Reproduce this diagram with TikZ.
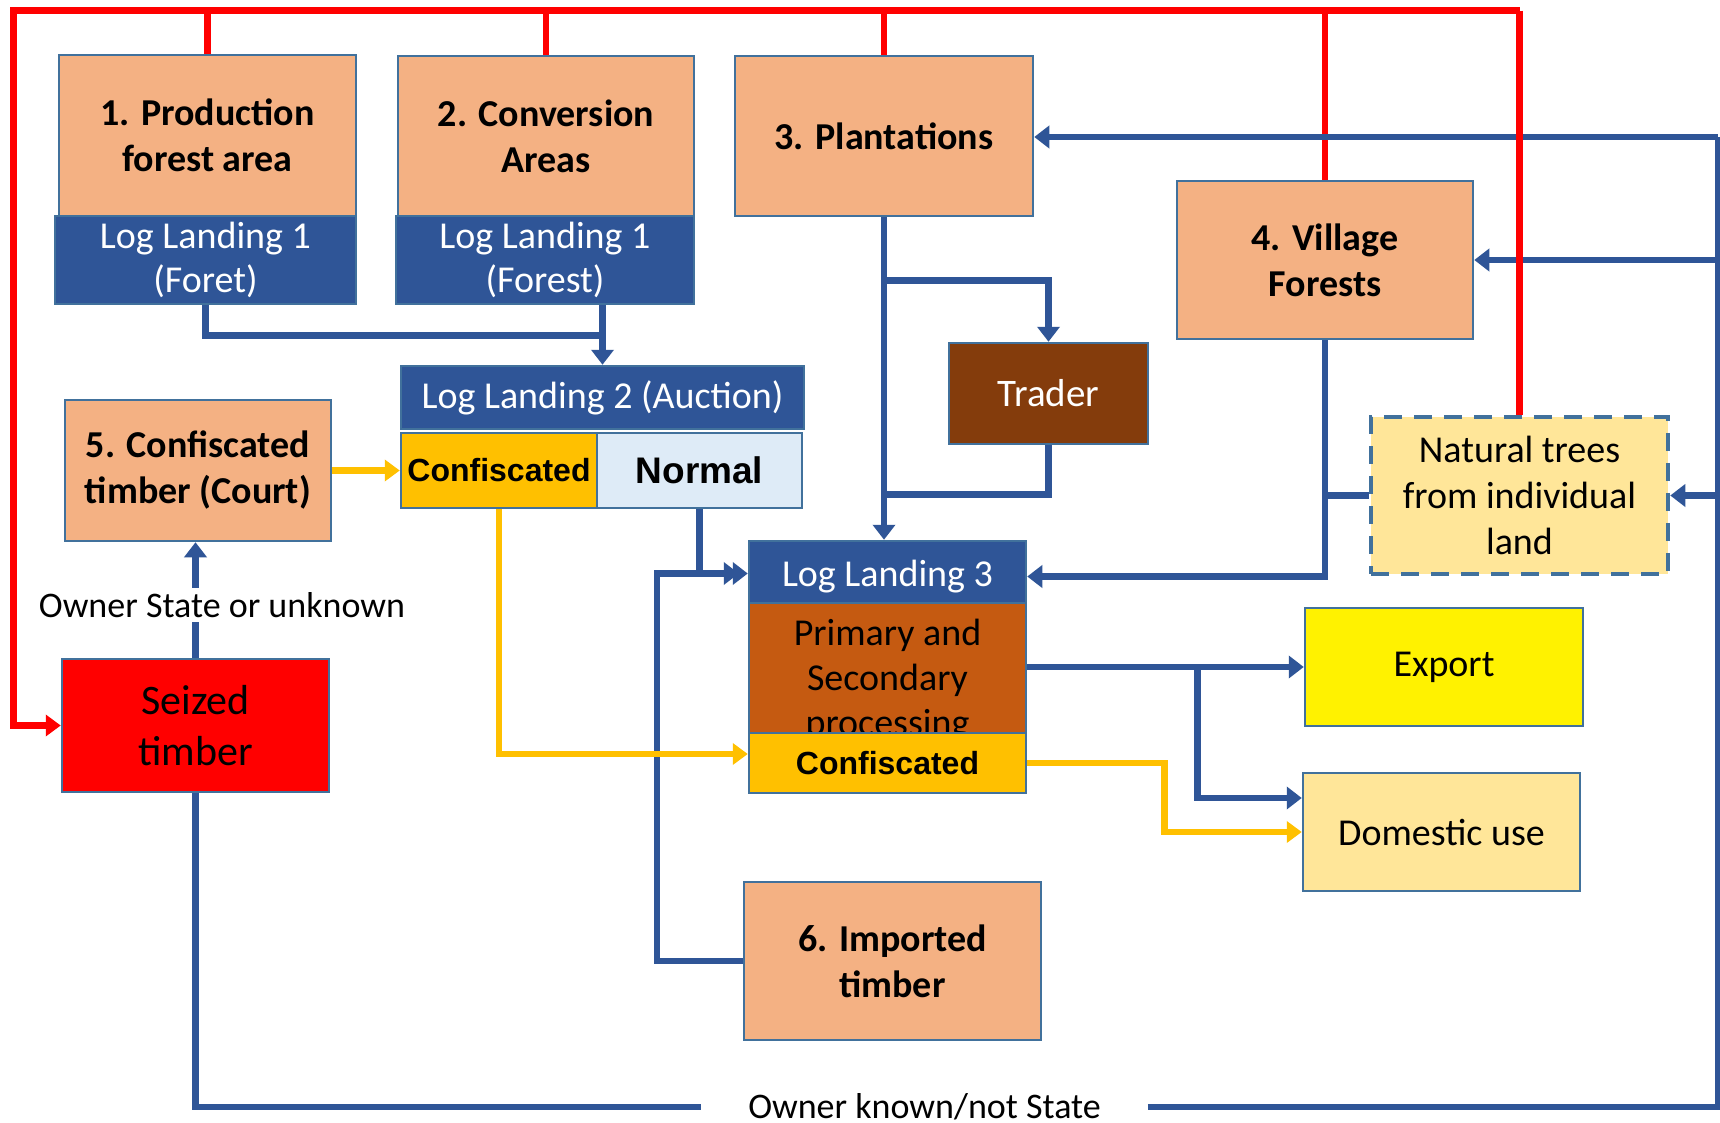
\documentclass[tikz,border=0pt]{standalone}
\usepackage{fontspec}
\setmainfont{Carlito}
\newfontfamily\arialfont{Liberation Sans}
\usetikzlibrary{arrows.meta,calc}

\definecolor{salmon}{HTML}{F4B183}
\definecolor{edgeblue}{HTML}{41719C}
\definecolor{landblue}{HTML}{2F5597}
\definecolor{flowblue}{HTML}{2F5597}
\definecolor{confyellow}{HTML}{FFC000}
\definecolor{paleblue}{HTML}{DEEBF7}
\definecolor{traderbrown}{HTML}{843C0C}
\definecolor{procbrown}{HTML}{C55A11}
\definecolor{paleyellow}{HTML}{FFE699}

\tikzset{
  wh/.style 2 args={minimum width=#1pt, minimum height=#2pt},
  box/.style={draw=edgeblue, line width=2.5pt, inner sep=0pt, align=center, text=black},
  source/.style={box, fill=salmon, font=\bfseries\fontsize{38}{46}\selectfont},
  landing/.style={box, fill=landblue, text=white, font=\fontsize{38}{44}\selectfont},
  confbox/.style={box, fill=confyellow, font=\arialfont\bfseries\fontsize{32}{36}\selectfont},
  outlet/.style={box, font=\fontsize{38}{44}\selectfont},
  note/.style={inner sep=0pt, font=\fontsize{36}{40}\selectfont},
  flow/.style={draw=flowblue, line width=6.5pt},
  flowarrow/.style={flow, -{Triangle[width=22pt,length=15pt]}},
  seize/.style={draw=red, line width=6.5pt},
  seizearrow/.style={seize, -{Triangle[width=21pt,length=15pt]}},
  confarrow/.style={draw=confyellow, line width=6.5pt, -{Triangle[width=21pt,length=15pt]}},
}

\begin{document}
\begin{tikzpicture}[x=1pt, y=-1pt, line join=miter]
  \useasboundingbox[fill=white] (0,0) rectangle (1720,1123);

  % timber sources
  \node[source, wh={297}{161}] (prod) at (207.5,135.5) {1. Production\\forest area};
  \node[landing, wh={301}{88}] (ll1a) at (205.5,260) {Log Landing 1\\(Foret)};
  \node[source, wh={296}{160}] (conv) at (546,136) {2. Conversion\\Areas};
  \node[landing, wh={298}{88}] (ll1b) at (545,260) {Log Landing 1\\(Forest)};
  \node[source, wh={298}{160}] (plant) at (884,136) {3. Plantations};
  \node[source, wh={296}{158}] (village) at (1325,260) {4. Village\\Forests};
  \node[source, wh={266}{141}] (court) at (198,470.5) {5. Confiscated\\timber (Court)};
  \node[source, wh={297}{158}] (imported) at (892.5,961) {6. Imported\\timber};

  % auction landing
  \node[landing, wh={403}{63}] (ll2) at (602.5,397.5) {Log Landing 2 (Auction)};
  \node[confbox, wh={196}{75}] (conf2) at (499,470.5) {Confiscated};
  \node[box, fill=paleblue, wh={205}{75}, font=\arialfont\bfseries\fontsize{37}{40}\selectfont] (normal) at (699.5,470.5) {Normal};

  \node[box, fill=traderbrown, text=white, wh={199}{101}, font=\fontsize{39}{40}\selectfont] (trader) at (1048.5,393.5) {Trader};
  \node[box, fill=paleyellow, draw=edgeblue, line width=4.5pt, dash pattern=on 18pt off 12pt,
        wh={297}{157}, font=\fontsize{38}{46}\selectfont] (natural) at (1519.5,495.5) {Natural trees\\from individual\\land};

  % processing landing
  \node[landing, wh={277}{71}] (ll3) at (887.5,576.5) {Log Landing 3};
  \node[box, fill=procbrown, wh={277}{121}, font=\fontsize{38}{45}\selectfont] (proc) at (887.5,672.5) {\rule{0pt}{42pt}Primary and\\Secondary\\processing};
  \node[confbox, wh={277}{60}] (conf3) at (887.5,763) {Confiscated};

  \node[box, fill=red, wh={267}{133}, font=\fontsize{42}{51}\selectfont] (seized) at (195.5,725.5) {Seized\\timber};

  \node[outlet, fill=yellow, wh={278}{118}] (export) at (1444,667) {Export};
  \node[outlet, fill=paleyellow, wh={277}{118}] (domestic) at (1441.5,832) {Domestic use};

  \node[note, inner xsep=47pt] (ownerknown) at (924.5,1107) {Owner known/not State};

  % red seizure lines
  \coordinate (rtl) at (13.7,10.7);
  \coordinate (rtr) at (natural.north |- rtl);
  \draw[seizearrow] (rtr) -- (rtl) |- (seized.west);
  \draw[seize] (prod.north) -- (prod.north |- rtl);
  \draw[seize] (conv.north) -- (conv.north |- rtl);
  \draw[seize] (plant.north) -- (plant.north |- rtl);
  \draw[seize] (village.north) -- (village.north |- rtl);

  % blue timber flows
  \draw[flow] (ll1a.south) |- ([yshift=-30pt]ll1b.south -| ll2.north);
  \draw[flowarrow] (ll1b.south -| ll2.north) -- (ll2.north);
  \draw[flowarrow] (plant.south) -- (plant.south |- ll3.north);
  \draw[flowarrow] ([yshift=-63pt]plant.south) -| (trader.north);
  \draw[flow] (trader.south) -- ++(0,49) coordinate (tr) -- (tr -| plant.south);
  \draw[flowarrow] (village.south) |- (ll3.east);
  \draw[flow] (natural.west) -- (natural.west -| village.south);
  \draw[flowarrow, shorten >=9pt] (normal.south) |- ([yshift=3pt]ll3.west);
  \draw[flowarrow] (imported.west) -- ++(-86,0) |- ([yshift=3pt]ll3.west);
  \draw[flowarrow] (export.west -| proc.east) -- (export.west);
  \draw[flowarrow] ([xshift=170pt]export.west -| proc.east) |- ([yshift=34pt]domestic.west);
  \draw[flowarrow] (seized.north) -- (seized.north |- court.south);
  \draw[flow] (seized.south) |- (ownerknown.west);

  \coordinate (rb) at (1718,1107);
  \coordinate (rt) at (1718,137);
  \draw[flow] (ownerknown.east) -- (rb) -- (rt);
  \draw[flowarrow] (rt) -- (rt -| plant.east);
  \draw[flowarrow] (village.east -| rt) -- (village.east);
  \draw[flowarrow] (natural.east -| rt) -- (natural.east);

  \node[note, fill=white, inner ysep=4pt] (stateunk) at (222,605) {Owner State or unknown};

  % confiscated timber
  \draw[confarrow] (court.east) -- (conf2.west);
  \draw[confarrow] (conf2.south) |- ([yshift=9pt]conf3.west);
  \draw[confarrow] (conf3.east) -- ++(137,0) |- (domestic.west);

  \draw[seize] (rtr) -- (natural.north);
\end{tikzpicture}
\end{document}
